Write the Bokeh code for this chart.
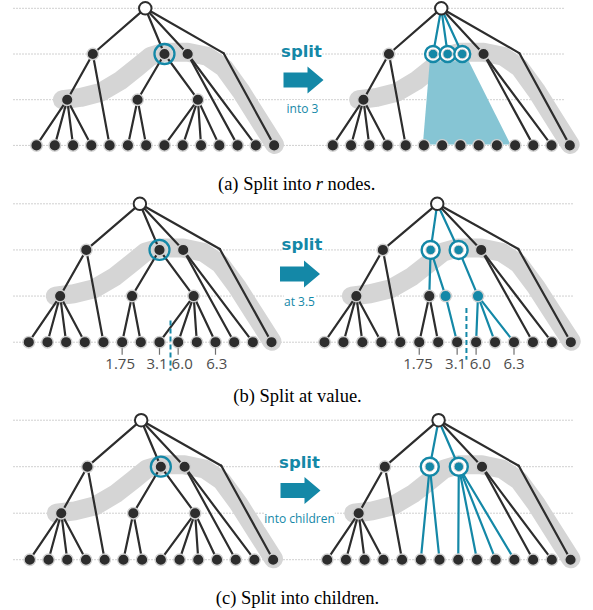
from bokeh.plotting import figure
from bokeh.models import Range1d, Label
from bokeh.embed import file_html
from bokeh.resources import INLINE

# ---------------- data ----------------
# internal nodes of the base tree (position in leaf-index units, level)
node_names = ["root", "A", "B", "C", "bend", "D", "E", "F"]
node_u = [5.95, 3.08, 7.0, 8.27, 10.23, 1.68, 5.53, 8.83]
node_level = [0, 1, 1, 1, 0.98, 2, 2, 2]
leaf_u = list(range(14))          # 14 leaves, level 3
LEAF_LEVEL = 3

# edges
common_edges = [("root", "A"), ("root", "C"), ("root", "bend"), ("bend", "L13"),
                ("A", "D"), ("A", "L4"), ("D", "L0"), ("D", "L1"), ("D", "L2"),
                ("D", "L3"), ("C", "L11"), ("C", "L12")]
left_edges = common_edges + [("root", "B"), ("B", "E"), ("B", "F"), ("E", "L5"),
                             ("E", "L6"), ("F", "L7"), ("F", "L8"), ("F", "L9"),
                             ("F", "L10")]
left_dark_nodes = ["A", "B", "C", "D", "E", "F"]

# right-hand trees (after the split)
split_a_names = ["S1", "S2", "S3"]
split_a_u = [5.5, 6.3, 7.1]
region_a_u = [5.32, 7.46, 9.75, 4.94]      # subtree region covered by split nodes
region_a_level = [1.16, 1.16, 2.98, 2.98]

split_b_names = ["S1", "S2", "E", "E2", "F2"]
split_b_u = [5.6, 7.08, 5.53, 6.39, 8.1]
split_b_level = [1, 1, 2, 2, 2]
teal_edges_b = [("root", "S1"), ("root", "S2"), ("S1", "E"), ("S1", "E2"),
                ("E2", "L7"), ("S2", "F2"), ("F2", "L8"), ("F2", "L9"), ("F2", "L10")]
dark_edges_b = [("E", "L5"), ("E", "L6")]

split_c_names = ["S1", "S2"]
split_c_u = [5.48, 7.03]
teal_edges_c = [("root", "S1"), ("root", "S2"), ("S1", "L5"), ("S1", "L6"),
                ("S2", "L7"), ("S2", "L8"), ("S2", "L9"), ("S2", "L10")]

# highlighted path (grey band)
band_u = [1.42, 2.41, 3.5, 4.6, 5.51, 6.24, 7.0, 8.27, 9.34, 10.25, 11.16, 12.07, 13.02]
band_level = [2.0, 1.95, 1.84, 1.58, 1.29, 1.05, 0.96, 0.96, 1.05, 1.3, 1.8, 2.38, 2.98]

# split values of panel (b)
value_leaves = [5, 7, 8, 10]
value_labels = ["1.75", "3.1", "6.0", "6.3"]
value_dx = {"left": [-2.0, -2.5, 4.0, 1.3], "right": [-1.2, -1.5, 4.2, 0.0]}
split_value_u = {"left": 7.59, "right": 7.49}
split_value_top = {"left": 2.53, "right": 2.26}
split_value_bot = {"left": 3.62, "right": 3.38}

ops = ["split", "split", "split"]
op_notes = ["into 3", "at 3.5", "into children"]
caption_a = ["(a) Split into", "r", "nodes."]
captions = ["(b) Split at value.", "(c) Split into children."]

# ---------------- layout / style ----------------
panels = [
    dict(xl=36.0, sl=18.28, xr=332.3, sr=18.23, y0=7.8, sy=45.7, dot_x1=563,
         op_xy=(301, 50.5), arrow=(283, 79.5), note_xy=(302, 108), cap_y=183.3),
    dict(xl=28.3, sl=18.67, xr=324.0, sr=18.95, y0=203.3, sy=46.13, dot_x1=573,
         op_xy=(301.5, 244), arrow=(279.5, 273.5), note_xy=(299, 300.5), cap_y=395),
    dict(xl=29.3, sl=18.72, xr=326.7, sr=18.72, y0=419.7, sy=46.5, dot_x1=573,
         op_xy=(299, 462), arrow=(280, 490), note_xy=(299, 518), cap_y=597),
]
CAP_A_X = [311.0, 318.8, 327.0]   # pieces of caption (a)
DOT_X0 = 13
TEAL = "#1488a7"
TEAL_LIGHT = "#86c5d4"
DARK = "#2d2d2d"
BAND = "#d5d5d5"
DOTC = "#a0a0a0"
HALO = "#d0d0d0"
EDGE_W = 2.2
NODE_SIZE = 11.5
BAND_W = 19
ARROW_SHAPE_X = [0, 24, 24, 40, 24, 24, 0]
ARROW_SHAPE_Y = [-7.5, -7.5, -13.5, 0, 13.5, 7.5, 7.5]

W, H = 593, 610
p = figure(width=W, height=H, x_range=Range1d(0, W), y_range=Range1d(H, 0),
           output_backend="svg", toolbar_location=None, min_border=0,
           min_border_left=0, min_border_right=0, min_border_top=0, min_border_bottom=0)
p.xaxis.visible = False
p.yaxis.visible = False
p.xgrid.visible = False
p.ygrid.visible = False
p.outline_line_color = None
p.background_fill_color = "white"
p.border_fill_color = "white"


def make_pos(x0, s, y0, sy, extra_names=(), extra_u=(), extra_level=()):
    pos = {}
    for n, u, l in zip(node_names, node_u, node_level):
        pos[n] = (x0 + s * u, y0 + sy * l)
    for i, u in enumerate(leaf_u):
        pos["L%d" % i] = (x0 + s * u, y0 + sy * LEAF_LEVEL)
    for n, u, l in zip(extra_names, extra_u, extra_level):
        pos[n] = (x0 + s * u, y0 + sy * l)
    return pos


def draw_edges(pos, edges, color):
    p.segment([pos[a][0] for a, b in edges], [pos[a][1] for a, b in edges],
              [pos[b][0] for a, b in edges], [pos[b][1] for a, b in edges],
              line_color=color, line_width=EDGE_W, line_cap="round")


def draw_nodes(pos, names, fill):
    p.scatter([pos[n][0] for n in names], [pos[n][1] for n in names], size=NODE_SIZE,
              fill_color=fill, line_color=HALO, line_width=1.4)


def draw_root(pos):
    p.scatter([pos["root"][0]], [pos["root"][1]], size=12.5, fill_color="white",
              line_color=DARK, line_width=2.0)


def draw_split_nodes(pos, names, ring_size):
    xs = [pos[n][0] for n in names]
    ys = [pos[n][1] for n in names]
    for x, y in zip(xs, ys):
        p.scatter([x], [y], size=ring_size, fill_color="white", line_color=TEAL, line_width=2.4)
        p.scatter([x], [y], size=9.5, fill_color=TEAL, line_color=HALO, line_width=1.0)


def draw_band(x0, s, y0, sy):
    p.line([x0 + s * u for u in band_u], [y0 + sy * l for l in band_level],
           line_color=BAND, line_width=BAND_W, line_cap="round", line_join="round")


leaf_names = ["L%d" % i for i in leaf_u]

for k, P in enumerate(panels):
    y0, sy = P["y0"], P["sy"]
    # dotted level guides
    lv = [y0 + sy * l for l in range(4)]
    p.multi_line([[DOT_X0, P["dot_x1"]] for _ in lv], [[y, y] for y in lv],
                 line_color=DOTC, line_width=1, line_dash="1 2")

    # ---- left tree (before) ----
    posL = make_pos(P["xl"], P["sl"], y0, sy)
    draw_band(P["xl"], P["sl"], y0, sy)
    draw_edges(posL, left_edges, DARK)
    draw_nodes(posL, left_dark_nodes + leaf_names, DARK)
    draw_root(posL)
    p.scatter([posL["B"][0]], [posL["B"][1]], size=20, fill_color=None,
              line_color=TEAL, line_width=2.3)

    # ---- right tree (after) ----
    xr, sr = P["xr"], P["sr"]
    draw_band(xr, sr, y0, sy)
    if k == 0:
        posR = make_pos(xr, sr, y0, sy, split_a_names, split_a_u, [1] * 3)
        p.patch([xr + sr * u for u in region_a_u], [y0 + sy * l for l in region_a_level],
                fill_color=TEAL_LIGHT, line_color=None)
        draw_edges(posR, common_edges, DARK)
        draw_edges(posR, [("root", n) for n in split_a_names], TEAL)
        draw_nodes(posR, ["A", "C", "D"] + leaf_names, DARK)
        draw_root(posR)
        draw_split_nodes(posR, split_a_names, 16)
    elif k == 1:
        posR = make_pos(xr, sr, y0, sy, split_b_names, split_b_u, split_b_level)
        draw_edges(posR, common_edges + dark_edges_b, DARK)
        draw_edges(posR, teal_edges_b, TEAL)
        draw_nodes(posR, ["A", "C", "D", "E"] + leaf_names, DARK)
        draw_nodes(posR, ["E2", "F2"], TEAL)
        draw_root(posR)
        draw_split_nodes(posR, ["S1", "S2"], 18)
    else:
        posR = make_pos(xr, sr, y0, sy, split_c_names, split_c_u, [1, 1])
        draw_edges(posR, common_edges, DARK)
        draw_edges(posR, teal_edges_c, TEAL)
        draw_nodes(posR, ["A", "C", "D"] + leaf_names, DARK)
        draw_root(posR)
        draw_split_nodes(posR, split_c_names, 18)

    # ---- split values (panel b) ----
    if k == 1:
        for side, pos, x0, s in (("left", posL, P["xl"], P["sl"]), ("right", posR, xr, sr)):
            lx = [pos["L%d" % i][0] for i in value_leaves]
            ly = pos["L0"][1]
            p.segment(lx, [ly + 6] * 4, lx, [ly + 12.5] * 4, line_color="#707070", line_width=1.2)
            for x, t, dx in zip(lx, value_labels, value_dx[side]):
                p.add_layout(Label(x=x + dx, y=ly + 22, text=t, text_font="Open Sans",
                                   text_font_size="15px", text_color="#4d4d4d",
                                   text_align="center", text_baseline="middle"))
            vx = x0 + s * split_value_u[side]
            p.segment([vx], [y0 + sy * split_value_top[side]], [vx], [y0 + sy * split_value_bot[side]],
                      line_color=TEAL, line_width=2.0, line_dash="5 3")

    # ---- operation label and arrow ----
    ox, oy = P["op_xy"]
    p.add_layout(Label(x=ox, y=oy, text=ops[k], text_font="DejaVu Sans", text_font_style="bold",
                       text_font_size="16.5px", text_color=TEAL, text_align="center",
                       text_baseline="middle", background_fill_color="white"))
    ax, ay = P["arrow"]
    p.patch([ax + d for d in ARROW_SHAPE_X], [ay + d for d in ARROW_SHAPE_Y],
            fill_color=TEAL, line_color=None)
    nx, ny = P["note_xy"]
    p.add_layout(Label(x=nx, y=ny, text=op_notes[k], text_font="Open Sans",
                       text_font_size="12px", text_color=TEAL, text_align="center",
                       text_baseline="middle", background_fill_color="white"))

# ---- captions ----
CAP_FONT = "Liberation Serif"
CAP_SIZE = "18.5px"
cy = panels[0]["cap_y"]
p.add_layout(Label(x=CAP_A_X[0], y=cy, text=caption_a[0], text_font=CAP_FONT,
                   text_font_size=CAP_SIZE, text_align="right", text_baseline="middle", text_color="black"))
p.add_layout(Label(x=CAP_A_X[1], y=cy, text=caption_a[1], text_font=CAP_FONT, text_font_style="italic",
                   text_font_size=CAP_SIZE, text_align="center", text_baseline="middle", text_color="black"))
p.add_layout(Label(x=CAP_A_X[2], y=cy, text=caption_a[2], text_font=CAP_FONT,
                   text_font_size=CAP_SIZE, text_align="left", text_baseline="middle", text_color="black"))
for k, t in enumerate(captions):
    p.add_layout(Label(x=297, y=panels[k + 1]["cap_y"], text=t, text_font=CAP_FONT,
                       text_font_size=CAP_SIZE, text_align="center", text_baseline="middle",
                       text_color="black"))

open("out.html", "w").write(file_html(p, INLINE))
